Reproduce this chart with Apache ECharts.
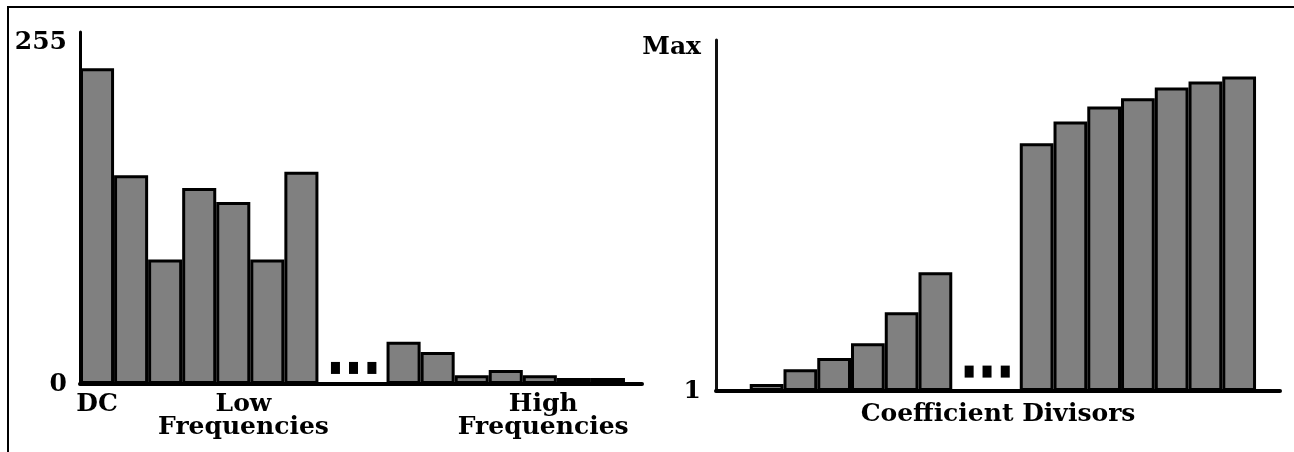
<!DOCTYPE html>
<html>
<head>
<meta charset="utf-8">
<script src="https://cdn.jsdelivr.net/npm/echarts@6/dist/echarts.min.js"></script>
<style>
  html, body { margin: 0; padding: 0; background: #fff; }
  #chart { width: 1294px; height: 452px; }
  #frame { position: absolute; left: 7px; top: 6px; right: 0; bottom: 0;
           border-top: 2px solid #000; border-left: 2px solid #000; pointer-events: none; }
</style>
</head>
<body>
<div id="chart"></div>
<div id="frame"></div>
<script>
// Left panel: coefficient magnitudes, 0..255
const lowFreqCoeffs  = [236, 156, 93, 146.5, 136, 93, 158.5];
const highFreqCoeffs = [31.5, 24, 6.5, 10.5, 6.5, 4.5, 4.5];
// Right panel: coefficient divisors, 1..Max (Max shown as 100)
const lowFreqDivisors  = [1, 3, 7.3, 10.5, 14.8, 23.7, 35.3];
const highFreqDivisors = [72.5, 78.8, 83.1, 85.5, 88.6, 90.3, 91.8];

// Slot positions along each x axis (two slots left empty for the "..." gap)
const lowSlots  = [0, 1, 2, 3, 4, 5, 6];
const highSlots = [9, 10, 11, 12, 13, 14, 15];
const gapDotX   = [7, 7.53, 8.07];

// Axis labels
const freqLabelPos = [0, 4.3, 13.1];
const freqLabels   = ['DC', 'Low\nFrequencies', 'High\nFrequencies'];
const coeffTicks      = [0, 255];
const coeffTickLabels = ['0', '255'];
const divisorTicks      = [1, 100];
const divisorTickLabels = ['1', 'Max'];
const divisorAxisName   = 'Coefficient Divisors';

const FONT = { fontFamily: 'DejaVu Serif', fontWeight: 'bold', fontSize: 25, color: '#000' };
const lookup = (ticks, labels) => v => {
  const i = ticks.findIndex(t => Math.abs(t - v) < 1e-6);
  return i < 0 ? '' : labels[i];
};

// grid geometry
const L = { left: 80, top: 32, width: 562, height: 352, xMin: -0.5, xMax: 16, yMax: 263 };
const R = { left: 716, top: 40, width: 564, height: 351, xMin: -0.5, xMax: 16.21, yMin: 1, yMax: 102.3 };
const slotPx = g => g.width / (g.xMax - g.xMin);

const pairs = (slots, vals) => slots.map((s, i) => [s, vals[i]]);

const barStyle = { color: '#808080', borderColor: '#000', borderWidth: 3 };
const dotStyle = { color: '#000', opacity: 1 };

const chart = echarts.init(document.getElementById('chart'), null, { renderer: 'canvas' });
chart.setOption({
  animation: false,
  backgroundColor: '#fff',
  grid: [
    { left: L.left, top: L.top, width: L.width, height: L.height, outerBoundsMode: 'none' },
    { left: R.left, top: R.top, width: R.width, height: R.height, outerBoundsMode: 'none' }
  ],
  xAxis: [
    {
      gridIndex: 0, type: 'value', min: L.xMin, max: L.xMax,
      splitLine: { show: false },
      axisTick: { show: false },
      axisLine: { show: true, onZero: false, lineStyle: { color: '#000', width: 4 } },
      axisLabel: Object.assign({
        customValues: freqLabelPos,
        formatter: lookup(freqLabelPos, freqLabels),
        margin: 9, lineHeight: 23, align: 'center'
      }, FONT)
    },
    {
      gridIndex: 1, type: 'value', min: R.xMin, max: R.xMax,
      splitLine: { show: false },
      axisTick: { show: false },
      axisLabel: { show: false },
      axisLine: { show: true, onZero: false, lineStyle: { color: '#000', width: 4 } },
      name: divisorAxisName, nameLocation: 'middle', nameGap: 11,
      nameTextStyle: Object.assign({ verticalAlign: 'top' }, FONT)
    }
  ],
  yAxis: [
    {
      gridIndex: 0, type: 'value', min: 0, max: L.yMax,
      splitLine: { show: false },
      axisTick: { show: false },
      axisLine: { show: true, onZero: false, lineStyle: { color: '#000', width: 3 } },
      axisLabel: Object.assign({
        customValues: coeffTicks,
        formatter: lookup(coeffTicks, coeffTickLabels),
        margin: 13
      }, FONT)
    },
    {
      gridIndex: 1, type: 'value', min: R.yMin, max: R.yMax, startValue: 1,
      splitLine: { show: false },
      axisTick: { show: false },
      axisLine: { show: true, onZero: false, lineStyle: { color: '#111', width: 3 } },
      axisLabel: Object.assign({
        customValues: divisorTicks,
        formatter: lookup(divisorTicks, divisorTickLabels),
        margin: 15
      }, FONT)
    }
  ],
  series: [
    {
      type: 'bar', xAxisIndex: 0, yAxisIndex: 0,
      barWidth: slotPx(L),
      itemStyle: barStyle,
      data: pairs(lowSlots, lowFreqCoeffs).concat(pairs(highSlots, highFreqCoeffs))
    },
    {
      type: 'scatter', xAxisIndex: 0, yAxisIndex: 0,
      symbol: 'rect', symbolSize: [9, 12], itemStyle: dotStyle,
      data: gapDotX.map(x => [x, 12])
    },
    {
      type: 'bar', xAxisIndex: 1, yAxisIndex: 1,
      barWidth: slotPx(R),
      itemStyle: barStyle,
      data: pairs(lowSlots, lowFreqDivisors).concat(pairs(highSlots, highFreqDivisors))
    },
    {
      type: 'scatter', xAxisIndex: 1, yAxisIndex: 1,
      symbol: 'rect', symbolSize: [9, 12], itemStyle: dotStyle,
      data: gapDotX.map(x => [x, 6.6])
    }
  ]
});
</script>
</body>
</html>
